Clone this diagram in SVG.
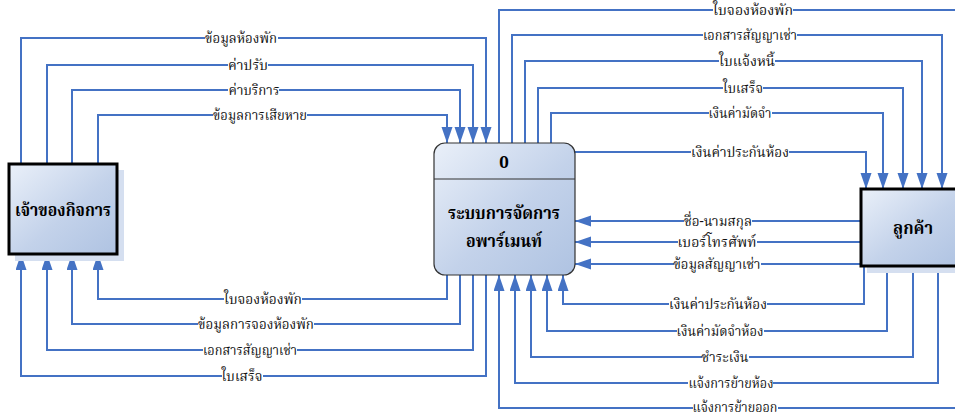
<svg xmlns="http://www.w3.org/2000/svg" width="955" height="417" viewBox="0 0 955 417">
  <defs>
    <linearGradient id="boxFill" x1="0" y1="0" x2="1" y2="1">
      <stop offset="0" stop-color="#eaf0f9"/>
      <stop offset="0.55" stop-color="#c3d2ea"/>
      <stop offset="1" stop-color="#afc3e2"/>
    </linearGradient>
    <marker id="arrow" markerUnits="userSpaceOnUse" markerWidth="17" markerHeight="12" refX="16" refY="5.5" orient="auto">
      <path d="M0,0 L16,5.5 L0,11 z" fill="#4472c4"/>
    </marker>
    <style>
      .flow { fill: none; stroke: #4472c4; stroke-width: 2; }
      .arr { marker-end: url(#arrow); }
      .lbg { fill: #ffffff; }
      .lbl { font-family: "Noto Serif Thai", "Noto Sans Thai", "Liberation Serif", serif; font-size: 14px; fill: #111111; text-anchor: middle; }
      .ent { fill: url(#boxFill); stroke: #000000; stroke-width: 3; }
      .shadow { fill: #d5dff0; }
      .proc { fill: url(#boxFill); stroke: #333333; stroke-width: 1.2; }
      .title { font-family: "Noto Serif Thai", "Noto Sans Thai", "Liberation Serif", serif; font-weight: bold; fill: #000000; text-anchor: middle; }
    </style>
  </defs>

  <!-- data flows -->
  <g id="connectors">
    <!-- owner to process -->
    <path class="flow arr" d="M21,163 V38 H486 V143"/>
    <path class="flow arr" d="M47,163 V65 H473 V143"/>
    <path class="flow arr" d="M72,163 V90 H460 V143"/>
    <path class="flow arr" d="M98,163 V115 H447 V143"/>
    <!-- process to owner -->
    <path class="flow arr" d="M447,275 V299 H98 V254"/>
    <path class="flow arr" d="M460,275 V324 H72 V254"/>
    <path class="flow arr" d="M473,275 V350 H47 V254"/>
    <path class="flow arr" d="M486,275 V376 H21 V254"/>
    <!-- process to customer -->
    <path class="flow" d="M499,143 V10 H960"/>
    <path class="flow arr" d="M512,143 V35 H942 V189"/>
    <path class="flow arr" d="M525,143 V61 H922 V189"/>
    <path class="flow arr" d="M538,143 V88 H903 V189"/>
    <path class="flow arr" d="M551,143 V113 H883 V189"/>
    <path class="flow arr" d="M575,152 H866 V189"/>
    <!-- customer to process -->
    <path class="flow arr" d="M861,221 H575"/>
    <path class="flow arr" d="M861,242 H575"/>
    <path class="flow arr" d="M861,264 H575"/>
    <path class="flow arr" d="M864,266 V304 H563 V275"/>
    <path class="flow arr" d="M887,266 V331 H547 V275"/>
    <path class="flow arr" d="M913,266 V357 H531 V275"/>
    <path class="flow arr" d="M938,266 V383 H515 V275"/>
    <path class="flow arr" d="M960,408 H499 V275"/>

    <!-- flow labels -->
    <g id="labels">
      <rect class="lbg" x="205" y="31" width="73" height="14"/><text class="lbl" x="241" y="43" textLength="72" lengthAdjust="spacingAndGlyphs">ข้อมูลห้องพัก</text>
      <rect class="lbg" x="228" y="58" width="40" height="14"/><text class="lbl" x="248" y="70" textLength="40" lengthAdjust="spacingAndGlyphs">ค่าปรับ</text>
      <rect class="lbg" x="228" y="83" width="51" height="14"/><text class="lbl" x="254" y="95" textLength="51" lengthAdjust="spacingAndGlyphs">ค่าบริการ</text>
      <rect class="lbg" x="213" y="108" width="94" height="14"/><text class="lbl" x="260" y="120" textLength="94" lengthAdjust="spacingAndGlyphs">ข้อมูลการเสียหาย</text>

      <rect class="lbg" x="224" y="292" width="78" height="14"/><text class="lbl" x="263" y="304" textLength="78" lengthAdjust="spacingAndGlyphs">ใบจองห้องพัก</text>
      <rect class="lbg" x="198" y="317" width="116" height="14"/><text class="lbl" x="256" y="329" textLength="116" lengthAdjust="spacingAndGlyphs">ข้อมูลการจองห้องพัก</text>
      <rect class="lbg" x="203" y="343" width="94" height="14"/><text class="lbl" x="250" y="355" textLength="94" lengthAdjust="spacingAndGlyphs">เอกสารสัญญาเช่า</text>
      <rect class="lbg" x="222" y="369" width="41" height="14"/><text class="lbl" x="242" y="381" textLength="41" lengthAdjust="spacingAndGlyphs">ใบเสร็จ</text>

      <rect class="lbg" x="713" y="3" width="80" height="14"/><text class="lbl" x="753" y="15" textLength="80" lengthAdjust="spacingAndGlyphs">ใบจองห้องพัก</text>
      <rect class="lbg" x="703" y="28" width="94" height="14"/><text class="lbl" x="750" y="40" textLength="94" lengthAdjust="spacingAndGlyphs">เอกสารสัญญาเช่า</text>
      <rect class="lbg" x="719" y="54" width="56" height="14"/><text class="lbl" x="747" y="66" textLength="56" lengthAdjust="spacingAndGlyphs">ใบแจ้งหนี้</text>
      <rect class="lbg" x="723" y="81" width="40" height="14"/><text class="lbl" x="743" y="93" textLength="40" lengthAdjust="spacingAndGlyphs">ใบเสร็จ</text>
      <rect class="lbg" x="709" y="106" width="63" height="14"/><text class="lbl" x="740" y="118" textLength="63" lengthAdjust="spacingAndGlyphs">เงินค่ามัดจำ</text>
      <rect class="lbg" x="691" y="145" width="98" height="14"/><text class="lbl" x="740" y="157" textLength="98" lengthAdjust="spacingAndGlyphs">เงินค่าประกันห้อง</text>

      <rect class="lbg" x="684" y="214" width="68" height="14"/><text class="lbl" x="718" y="226" textLength="68" lengthAdjust="spacingAndGlyphs">ชื่อ-นามสกุล</text>
      <rect class="lbg" x="678" y="235" width="79" height="14"/><text class="lbl" x="717" y="247" textLength="79" lengthAdjust="spacingAndGlyphs">เบอร์โทรศัพท์</text>
      <rect class="lbg" x="674" y="257" width="87" height="14"/><text class="lbl" x="717" y="269" textLength="87" lengthAdjust="spacingAndGlyphs">ข้อมูลสัญญาเช่า</text>

      <rect class="lbg" x="669" y="297" width="98" height="14"/><text class="lbl" x="718" y="309" textLength="98" lengthAdjust="spacingAndGlyphs">เงินค่าประกันห้อง</text>
      <rect class="lbg" x="677" y="324" width="87" height="14"/><text class="lbl" x="720" y="336" textLength="87" lengthAdjust="spacingAndGlyphs">เงินค่ามัดจำห้อง</text>
      <rect class="lbg" x="702" y="350" width="47" height="14"/><text class="lbl" x="725" y="362" textLength="47" lengthAdjust="spacingAndGlyphs">ชำระเงิน</text>
      <rect class="lbg" x="688" y="376" width="85" height="14"/><text class="lbl" x="731" y="388" textLength="85" lengthAdjust="spacingAndGlyphs">แจ้งการย้ายห้อง</text>
      <rect class="lbg" x="693" y="401" width="85" height="14"/><text class="lbl" x="735" y="412" textLength="85" lengthAdjust="spacingAndGlyphs">แจ้งการย้ายออก</text>
    </g>
  </g>

  <!-- external entity: business owner -->
  <g id="owner">
    <rect class="shadow" x="15" y="170" width="109" height="91"/>
    <rect class="ent" x="9" y="164" width="108" height="90"/>
    <text class="title" x="63" y="216" font-size="17" textLength="96" lengthAdjust="spacingAndGlyphs">เจ้าของกิจการ</text>
  </g>

  <!-- process 0 -->
  <g id="process">
    <rect class="proc" x="434" y="143" width="141" height="132" rx="11" ry="11"/>
    <line x1="434" y1="179" x2="575" y2="179" stroke="#333333" stroke-width="1.2"/>
    <text class="title" x="504" y="168" font-size="17">0</text>
    <text class="title" x="504" y="219" font-size="17" textLength="112" lengthAdjust="spacingAndGlyphs">ระบบการจัดการ</text>
    <text class="title" x="504" y="247" font-size="17" textLength="76" lengthAdjust="spacingAndGlyphs">อพาร์เมนท์</text>
  </g>

  <!-- external entity: customer -->
  <g id="customer">
    <rect class="shadow" x="867" y="195" width="95" height="78"/>
    <rect class="ent" x="861" y="189" width="100" height="77"/>
    <text class="title" x="913" y="234" font-size="17" textLength="40" lengthAdjust="spacingAndGlyphs">ลูกค้า</text>
  </g>
</svg>
